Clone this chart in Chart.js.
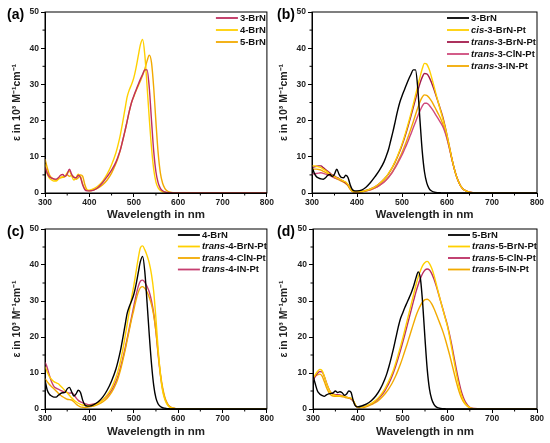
<!DOCTYPE html>
<html>
<head>
<meta charset="utf-8">
<script src="https://cdn.jsdelivr.net/npm/chart.js@4"></script>
<style>
  body { margin: 0; background: #fff; width: 550px; height: 443px; position: relative; overflow: hidden; }
  canvas { position: absolute; }
  .tag { position: absolute; font: bold 14px "Liberation Sans", Arial, sans-serif; line-height: 16px; color: #000; }
</style>
</head>
<body>
<canvas id="pa" width="275" height="222" style="left:0;top:0"></canvas>
<canvas id="pb" width="275" height="222" style="left:275px;top:0"></canvas>
<canvas id="pc" width="275" height="223" style="left:0;top:220px"></canvas>
<canvas id="pd" width="275" height="223" style="left:275px;top:220px"></canvas>
<div class="tag" style="left:7px;top:6px">(a)</div>
<div class="tag" style="left:277px;top:6px">(b)</div>
<div class="tag" style="left:7px;top:223px">(c)</div>
<div class="tag" style="left:277px;top:223px">(d)</div>
<script>
// ---------------- DATA ----------------
// wavelength grid in nm (shared by every spectrum)
const wavelength = [
  300, 305, 310, 315, 320, 325, 330, 335, 340, 345, 350, 355, 360, 365, 370, 375, 380, 385, 390, 395, 400,
  410, 420, 430, 440, 450,
  460, 465, 470, 475, 480, 485, 490, 495, 500, 505, 510, 515, 520, 525, 530, 535, 540, 545, 550, 555, 560,
  565, 570, 575, 580, 585, 590, 595, 600, 605, 610, 615, 620, 625, 630, 635, 640,
  650, 660, 700, 800
];

// epsilon in 10^3 M^-1 cm^-1
const brn3 = [
  7.2, 5.5, 4.5, 4.1, 3.9, 3.8, 4.2, 4.9, 5.1, 4.6, 5.2, 6.6, 5.2, 4.3, 4.2, 4.9, 4.3, 2.2, 0.9, 0.6, 0.6,
  0.8, 1.6, 2.9, 4.5, 6.3,
  8.6, 10.2, 12.0, 14.5, 17.0, 19.8, 22.6, 25.0, 26.8, 28.4, 30.0, 31.5, 32.8, 34.0, 34.0, 29.0, 20.0,
  11.5, 5.8, 2.8, 1.3, 0.6, 0.3, 0.15, 0.1, 0.05, 0, 0, 0, 0, 0, 0, 0, 0, 0, 0, 0,
  0, 0, 0, 0
];
const brn4 = [
  8.0, 5.3, 4.1, 3.6, 3.3, 3.3, 3.8, 4.3, 4.5, 4.6, 5.6, 6.0, 4.8, 3.6, 4.2, 5.2, 4.6, 2.4, 1.1, 0.8, 0.8,
  1.2, 2.0, 3.3, 5.2, 7.8,
  11.2, 13.5, 16.2, 19.5, 23.0, 26.5, 28.5, 30.0, 31.8, 34.5, 37.8, 41.0, 42.4, 38.0, 29.5, 20.5, 12.5,
  6.5, 3.0, 1.4, 0.7, 0.35, 0.2, 0.1, 0.05, 0, 0, 0, 0, 0, 0, 0, 0, 0, 0, 0, 0,
  0, 0, 0, 0
];
const brn5 = [
  9.4, 7.0, 5.0, 4.2, 3.8, 3.5, 3.9, 4.2, 4.3, 4.5, 5.0, 4.6, 4.8, 4.5, 3.8, 4.2, 5.0, 4.6, 2.2, 0.8, 0.6,
  0.9, 1.4, 2.3, 3.6, 5.5,
  8.2, 9.9, 12.0, 14.4, 17.0, 19.8, 22.6, 25.0, 26.6, 28.2, 29.6, 31.0, 32.5, 34.3, 36.5, 38.1, 36.0,
  29.0, 19.5, 11.0, 5.5, 2.7, 1.3, 0.6, 0.3, 0.15, 0.1, 0.05, 0, 0, 0, 0, 0, 0, 0, 0, 0,
  0, 0, 0, 0
];
const cis3BrNPt = [
  7.5, 7.5, 7.4, 7.2, 7.0, 6.6, 6.2, 5.7, 5.2, 4.8, 4.5, 4.2, 3.9, 3.6, 3.3, 3.0, 2.3, 1.2, 0.5, 0.3, 0.3,
  0.4, 0.7, 1.1, 1.7, 2.6,
  3.8, 4.5, 5.4, 6.4, 7.5, 8.8, 10.2, 11.8, 13.5, 15.4, 17.5, 19.7, 22.0, 24.5, 27.0, 29.6, 32.0,
  34.3, 35.8, 35.6, 34.3, 32.3, 30.0, 27.6, 25.3, 23.0, 20.8, 18.5, 16.0, 13.0, 10.0, 7.3, 5.0, 3.3, 2.0, 1.2, 0.7,
  0.2, 0.1, 0, 0
];
const trans3BrNPt = [
  7.0, 7.2, 7.4, 7.5, 7.5, 7.0, 6.5, 6.0, 5.5, 5.0, 4.7, 4.3, 4.0, 3.6, 3.2, 2.8, 2.2, 1.2, 0.5, 0.3, 0.3,
  0.4, 0.7, 1.1, 1.7, 2.6,
  3.8, 4.5, 5.3, 6.3, 7.4, 8.6, 10.0, 11.5, 13.2, 15.0, 17.0, 19.1, 21.3, 23.6, 25.9, 28.2, 30.3,
  32.0, 33.0, 32.9, 32.1, 30.7, 29.0, 27.1, 25.2, 23.3, 21.3, 18.8, 16.0, 13.0, 10.0, 7.3, 5.0, 3.3, 2.0, 1.2, 0.7,
  0.2, 0.1, 0, 0
];
const trans3ClNPt = [
  5.2, 5.3, 5.4, 5.5, 5.6, 5.4, 5.2, 5.0, 4.8, 4.5, 4.2, 4.0, 3.8, 3.5, 3.2, 2.8, 2.3, 1.3, 0.6, 0.3, 0.3,
  0.4, 0.6, 0.9, 1.4, 2.1,
  3.0, 3.6, 4.3, 5.1, 6.0, 7.0, 8.1, 9.3, 10.5, 11.9, 13.3, 14.8, 16.4, 18.0, 19.6, 21.2, 22.7,
  24.0, 24.8, 24.8, 24.3, 23.5, 22.6, 21.6, 20.6, 19.6, 18.5, 17.0, 15.0, 12.5, 9.8, 7.2, 5.0, 3.3, 2.0, 1.2, 0.7,
  0.2, 0.1, 0, 0
];
const trans3INPt = [
  6.5, 6.6, 6.6, 6.5, 6.3, 6.0, 5.7, 5.3, 4.9, 4.5, 4.2, 3.9, 3.6, 3.3, 3.0, 2.6, 2.0, 1.0, 0.4, 0.2, 0.2,
  0.3, 0.6, 0.9, 1.4, 2.1,
  3.1, 3.7, 4.4, 5.2, 6.2, 7.3, 8.5, 9.8, 11.2, 12.7, 14.3, 16.0, 17.8, 19.7, 21.6, 23.5, 25.2,
  26.5, 27.1, 27.0, 26.4, 25.5, 24.4, 23.2, 22.0, 20.8, 19.3, 17.4, 15.2, 12.6, 9.8, 7.2, 5.0, 3.3, 2.0, 1.2, 0.7,
  0.2, 0.1, 0, 0
];
const trans4BrNPt = [
  11.8, 10.3, 9.0, 8.2, 7.6, 7.3, 7.0, 6.4, 5.8, 5.1, 4.5, 3.8, 3.1, 2.5, 2.0, 1.6, 1.3, 1.1, 1.0, 0.9, 0.9,
  1.1, 1.6, 2.5, 3.9, 5.9,
  8.8, 10.8, 13.3, 16.3, 19.8, 23.5, 27.2, 30.8, 34.2, 38.0, 41.8, 44.8, 45.3, 44.2, 42.6, 40.5, 37.3,
  32.5, 25.0, 16.5, 9.5, 5.0, 2.6, 1.3, 0.6, 0.3, 0.2, 0.1, 0.05, 0, 0, 0, 0, 0, 0, 0, 0,
  0, 0, 0, 0
];
const trans4ClNPt = [
  8.4, 7.6, 6.8, 6.2, 5.6, 5.0, 4.4, 3.8, 3.4, 3.0, 2.7, 2.6, 2.5, 2.0, 1.4, 0.9, 0.6, 0.5, 0.4, 0.5, 0.6,
  0.8, 1.3, 2.0, 3.0, 4.6,
  7.0, 8.7, 10.8, 13.3, 16.0, 19.0, 22.0, 24.9, 27.5, 30.2, 32.4, 33.7, 34.0, 33.5, 32.5, 31.0, 29.0,
  26.0, 21.5, 15.5, 10.0, 6.0, 3.3, 1.7, 0.8, 0.4, 0.2, 0.1, 0.05, 0, 0, 0, 0, 0, 0, 0, 0,
  0, 0, 0, 0
];
const trans4INPt = [
  13.0, 11.5, 9.3, 7.5, 6.3, 5.8, 5.5, 5.2, 4.9, 4.7, 4.6, 4.4, 4.5, 4.0, 3.1, 2.4, 2.0, 1.7, 1.5, 1.3, 1.2,
  1.4, 1.8, 2.5, 3.6, 5.2,
  7.7, 9.4, 11.5, 13.9, 16.6, 19.5, 22.5, 25.5, 28.5, 31.5, 34.0, 35.5, 35.8, 35.2, 34.0, 32.5, 30.0,
  26.5, 21.5, 15.0, 9.5, 5.5, 3.0, 1.6, 0.8, 0.4, 0.2, 0.1, 0.05, 0, 0, 0, 0, 0, 0, 0, 0,
  0, 0, 0, 0
];
const trans5BrNPt = [
  8.5, 9.5, 10.4, 11.0, 10.7, 9.2, 7.2, 5.6, 4.5, 4.0, 3.8, 3.7, 3.7, 3.6, 3.5, 3.3, 3.1, 3.0, 2.4, 1.1, 0.5,
  0.5, 0.9, 1.5, 2.4, 3.7,
  5.5, 6.7, 8.0, 9.4, 11.0, 12.9, 15.0, 17.2, 19.5, 22.0, 24.5, 27.0, 29.5, 32.0, 34.5, 36.7, 38.5,
  39.9, 40.7, 41.0, 40.4, 39.1, 37.2, 34.8, 32.3, 29.9, 27.6, 25.3, 23.0, 20.0, 16.6, 13.2, 9.8, 6.8, 4.4, 2.7, 1.5,
  0.4, 0.1, 0, 0
];
const trans5ClNPt = [
  8.0, 9.0, 9.9, 10.4, 10.3, 9.1, 7.3, 5.7, 4.6, 4.2, 4.0, 4.0, 3.9, 3.7, 3.5, 3.3, 3.1, 2.8, 2.2, 1.0, 0.4,
  0.5, 0.8, 1.4, 2.2, 3.4,
  5.0, 6.1, 7.3, 8.7, 10.3, 12.1, 14.1, 16.2, 18.4, 20.7, 23.1, 25.5, 27.9, 30.3, 32.6, 34.6, 36.3,
  37.7, 38.6, 38.9, 38.6, 37.6, 36.1, 34.2, 32.1, 29.9, 27.7, 25.5, 23.3, 20.6, 17.6, 14.3, 11.0, 8.0, 5.4, 3.4, 2.0,
  0.5, 0.15, 0, 0
];
const trans5INPt = [
  8.8, 9.2, 9.5, 9.7, 9.2, 7.7, 6.0, 4.7, 3.9, 3.6, 3.5, 3.5, 3.5, 3.4, 3.3, 3.1, 3.0, 2.8, 2.2, 1.0, 0.4,
  0.4, 0.7, 1.2, 1.8, 2.8,
  4.1, 4.9, 5.8, 6.8, 8.0, 9.3, 10.8, 12.4, 14.2, 16.1, 18.0, 20.0, 22.0, 24.0, 25.9, 27.5, 28.8,
  29.8, 30.4, 30.5, 30.1, 29.2, 27.9, 26.4, 24.8, 23.2, 21.5, 19.5, 17.3, 15.0, 12.5, 10.0, 7.5, 5.3, 3.5, 2.2, 1.3,
  0.3, 0.1, 0, 0
];

const xTicks = [300, 400, 500, 600, 700, 800];
const yTicks = [0, 10, 20, 30, 40, 50];
const xTitle = "Wavelength in nm";
const yTitle = "ε in 10³ M⁻¹cm⁻¹";

// ---------------- COLOURS ----------------
const BLACK = "#000000";
const YELLOW = "#ffd000";
const GOLD = "#f2aa00";
const FONT = '"Liberation Sans", Arial, sans-serif';

// ---------------- PANELS ----------------
const panels = [
  { id: "pa", top: 12, right: 6, yw: 45, xh: 29, ytp: 11, xtp: 0, lgInset: 51, lgTop: 6, lgStep: 12,
    series: [["3-BrN", brn3, "#bf2e5e"], ["4-BrN", brn4, YELLOW], ["5-BrN", brn5, GOLD]] },
  { id: "pb", top: 12, right: 13, yw: 37, xh: 29, ytp: 3, xtp: 0, lgInset: 90, lgTop: 6, lgStep: 12,
    series: [["3-BrN", brn3, BLACK], ["cis-3-BrN-Pt", cis3BrNPt, YELLOW], ["trans-3-BrN-Pt", trans3BrNPt, "#a31a4b"],
             ["trans-3-ClN-Pt", trans3ClNPt, "#cf4a7c"], ["trans-3-IN-Pt", trans3INPt, GOLD]] },
  { id: "pc", top: 9, right: 6, yw: 45, xh: 34, ytp: 11, xtp: 4, lgInset: 89, lgTop: 6, lgStep: 11.5,
    series: [["4-BrN", brn4, BLACK], ["trans-4-BrN-Pt", trans4BrNPt, YELLOW], ["trans-4-ClN-Pt", trans4ClNPt, GOLD],
             ["trans-4-IN-Pt", trans4INPt, "#c63f70"]] },
  { id: "pd", top: 9, right: 13, yw: 38, xh: 34, ytp: 3, xtp: 4, lgInset: 89, lgTop: 6, lgStep: 11.5,
    series: [["5-BrN", brn5, BLACK], ["trans-5-BrN-Pt", trans5BrNPt, YELLOW], ["trans-5-ClN-Pt", trans5ClNPt, "#bb2d62"],
             ["trans-5-IN-Pt", trans5INPt, GOLD]] }
];

// ---------------- PLUGINS ----------------
// box round the plot + short minor ticks
const framePlugin = {
  id: "frame",
  afterDraw(chart) {
    const { ctx, chartArea: a, scales } = chart;
    ctx.save();
    ctx.strokeStyle = "#000";
    ctx.lineWidth = 1;
    ctx.strokeRect(a.left, a.top, a.right - a.left, a.bottom - a.top);
    ctx.beginPath();
    for (let i = 0; i < xTicks.length - 1; i++) {
      const px = scales.x.getPixelForValue((xTicks[i] + xTicks[i + 1]) / 2);
      ctx.moveTo(px, a.bottom);
      ctx.lineTo(px, a.bottom + 2.5);
    }
    for (let i = 0; i < yTicks.length - 1; i++) {
      const py = scales.y.getPixelForValue((yTicks[i] + yTicks[i + 1]) / 2);
      ctx.moveTo(a.left, py);
      ctx.lineTo(a.left - 2.5, py);
    }
    ctx.stroke();
    ctx.restore();
  }
};

// legend with italic cis/trans prefix
const legendPlugin = {
  id: "ownLegend",
  afterDraw(chart, args, opts) {
    const { ctx, chartArea: a } = chart;
    ctx.save();
    chart.data.datasets.forEach((ds, i) => {
      const y = a.top + opts.top + i * opts.step;
      const x0 = a.right - opts.inset;
      ctx.strokeStyle = ds.borderColor;
      ctx.lineWidth = 1.8;
      ctx.beginPath();
      ctx.moveTo(x0, y);
      ctx.lineTo(x0 + 22, y);
      ctx.stroke();
      let tx = x0 + 24;
      ctx.fillStyle = "#111";
      ctx.textBaseline = "middle";
      const m = ds.label.match(/^(cis|trans)(-.*)$/);
      const parts = m ? [[m[1], "italic bold"], [m[2], "bold"]] : [[ds.label, "bold"]];
      parts.forEach(([t, style]) => {
        ctx.font = style + " 9.5px " + FONT;
        ctx.fillText(t, tx, y);
        tx += ctx.measureText(t).width;
      });
    });
    ctx.restore();
  }
};

// ---------------- CHARTS ----------------
panels.forEach(p => {
  const datasets = p.series.map(([label, values, color]) => ({
    label: label,
    data: wavelength.map((w, i) => ({ x: w, y: values[i] })),
    borderColor: color,
    borderWidth: 1.4,
    pointRadius: 0,
    fill: false,
    cubicInterpolationMode: "monotone"
  }));

  new Chart(document.getElementById(p.id), {
    type: "line",
    data: { datasets: datasets },
    plugins: [framePlugin, legendPlugin],
    options: {
      responsive: false,
      animation: false,
      layout: { padding: { left: 0, top: p.top, right: p.right, bottom: 0 } },
      plugins: {
        legend: { display: false },
        tooltip: { enabled: false },
        ownLegend: { inset: p.lgInset, top: p.lgTop, step: p.lgStep }
      },
      scales: {
        x: {
          type: "linear",
          min: xTicks[0],
          max: xTicks[xTicks.length - 1],
          afterFit: s => { s.height = p.xh; },
          afterBuildTicks: s => { s.ticks = xTicks.map(v => ({ value: v })); },
          ticks: { color: "#222", padding: 1, maxRotation: 0, font: { family: FONT, size: 8.5, weight: "bold" } },
          grid: { drawOnChartArea: false, drawTicks: true, tickLength: 4, tickColor: "#000" },
          border: { display: true, color: "#000", width: 1 },
          title: { display: true, text: xTitle, color: "#222", padding: { top: 0, bottom: p.xtp },
                   font: { family: FONT, size: 11.5, weight: "bold" } }
        },
        y: {
          min: yTicks[0],
          max: yTicks[yTicks.length - 1],
          afterFit: s => { s.width = p.yw; },
          afterBuildTicks: s => { s.ticks = yTicks.map(v => ({ value: v })); },
          ticks: { color: "#222", padding: 2, font: { family: FONT, size: 8.5, weight: "bold" } },
          grid: { drawOnChartArea: false, drawTicks: true, tickLength: 4, tickColor: "#000" },
          border: { display: true, color: "#000", width: 1 },
          title: { display: true, text: yTitle, color: "#222", padding: { top: p.ytp, bottom: 0 },
                   font: { family: FONT, size: 10.5, weight: "bold" } }
        }
      }
    }
  });
});
</script>
</body>
</html>
